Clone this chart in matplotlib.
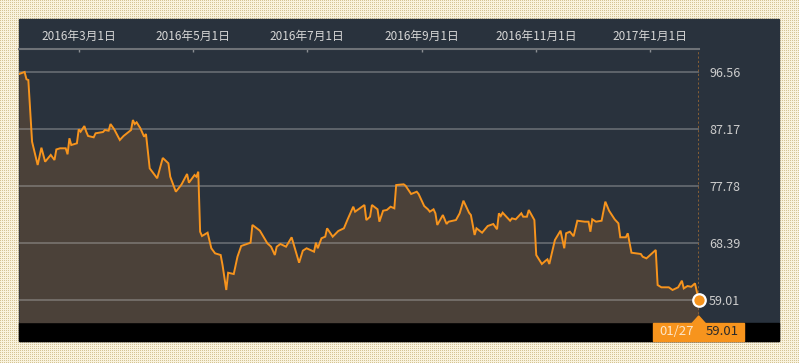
import numpy as np
import pandas as pd
import matplotlib
matplotlib.use('Agg')
import matplotlib.pyplot as plt
from matplotlib.patches import Rectangle, Polygon

plt.rcParams['font.family'] = ['Noto Sans CJK JP', 'DejaVu Sans']

# Data (days counted from the first date)
start_date = '2016-01-29'
day = [0, 3, 4, 5, 7, 10, 12, 14, 17, 19,
       20, 22, 25, 26, 27, 28, 31, 32, 33, 35,
       36, 37, 40, 41, 45, 46, 48, 49, 51, 54,
       56, 60, 61, 62, 63, 65, 67, 68, 70, 74,
       77, 80, 81, 84, 87, 90, 91, 94, 95, 96,
       97, 98, 101, 103, 105, 108, 109, 111, 112, 115,
       117, 119, 124, 125, 129, 133, 135, 137, 138, 140,
       143, 146, 148, 150, 152, 154, 158, 159, 160, 162,
       164, 165, 168, 171, 174, 176, 179, 180, 185, 186,
       188, 189, 192, 193, 195, 197, 199, 201, 202, 206,
       207, 210, 213, 214, 217, 219, 220, 222, 223, 224,
       227, 229, 230, 234, 236, 238, 241, 242, 244, 245,
       248, 251, 254, 256, 257, 258, 259, 263, 264, 266,
       269, 270, 272, 273, 276, 277, 280, 282, 283, 284,
       287, 290, 292, 293, 295, 297, 299, 303, 305, 306,
       307, 309, 312, 314, 316, 319, 321, 322, 325, 326,
       328, 333, 334, 336, 337, 341, 342, 344, 348, 350,
       353, 355, 356, 358, 360, 362, 364]
price = [96.23, 96.56, 95.36, 95.24, 85.08, 81.24, 84.09, 81.78, 82.90, 82.06,
         83.80, 83.99, 83.99, 83.00, 85.64, 84.53, 84.81, 87.12, 86.73, 87.66,
         86.73, 86.02, 85.80, 86.46, 86.67, 87.00, 86.89, 87.99, 87.12, 85.36,
         86.02, 87.00, 88.65, 87.99, 88.27, 87.29, 85.90, 86.35, 80.69, 79.05,
         82.40, 81.52, 79.31, 76.84, 78.01, 79.76, 78.32, 79.59, 79.31, 80.14,
         70.25, 69.54, 70.09, 67.52, 66.69, 66.41, 64.76, 60.65, 63.49, 63.28,
         66.13, 67.90, 68.44, 71.36, 70.42, 68.34, 67.78, 66.41, 67.78, 68.23,
         67.78, 69.33, 67.24, 65.14, 67.12, 67.52, 66.96, 68.44, 67.52, 69.17,
         69.43, 70.81, 69.43, 70.37, 70.81, 72.29, 74.37, 73.55, 74.65, 72.17,
         72.72, 74.65, 73.94, 71.90, 73.71, 73.83, 74.37, 74.10, 77.94, 78.06,
         77.83, 76.46, 76.84, 76.46, 74.48, 73.94, 73.55, 73.94, 73.28, 71.36,
         73.00, 71.52, 71.90, 72.17, 73.28, 75.36, 73.38, 73.00, 69.71, 70.81,
         70.09, 71.19, 71.52, 70.65, 73.28, 72.83, 73.38, 72.06, 72.45, 72.29,
         73.28, 72.72, 72.72, 73.83, 72.17, 66.41, 64.93, 65.47, 65.70, 64.93,
         68.88, 70.42, 67.52, 69.99, 70.25, 69.50, 72.06, 71.90, 71.90, 70.25,
         72.29, 71.90, 72.06, 75.20, 73.71, 72.29, 71.63, 69.33, 69.33, 69.99,
         66.79, 66.58, 66.13, 65.86, 66.13, 67.24, 61.47, 61.09, 61.09, 60.65,
         61.09, 62.18, 60.91, 61.30, 61.18, 61.74, 59.01]

grid_values = [59.01, 68.39, 77.78, 87.17, 96.56]
tick_dates = ['2016-03-01', '2016-05-01', '2016-07-01',
              '2016-09-01', '2016-11-01', '2017-01-01']
last_label = '01/27'

dates = pd.Timestamp(start_date) + pd.to_timedelta(day, unit='D')
ymin, ymax = 55.26, 100.30

W, H = 799, 363
fig = plt.figure(figsize=(W / 100, H / 100), dpi=100)

# dotted beige background
yy, xx = np.mgrid[0:H, 0:W]
img = np.empty((H, W, 3))
img[:] = np.array([249, 243, 222]) / 255
img[(yy % 2 == 0) & (xx % 2 == 0)] = np.array([212, 195, 148]) / 255
fig.figimage(img, 0, 0, zorder=0)

def fx(px):
    return px / W

def fy(py):
    return 1 - py / H

# dark panel and black strip
fig.add_artist(Rectangle((fx(19), fy(341)), fx(760), 322 / H,
                         transform=fig.transFigure, color='#29323d', zorder=1))
fig.add_artist(Rectangle((fx(19), fy(341)), fx(760), 18.3 / H,
                         transform=fig.transFigure, color='#000000', zorder=1))

ax = fig.add_axes([fx(19), fy(322.7), fx(679.7), 273.4 / H])
ax.set_zorder(2)
ax.patch.set_alpha(0)

ax.fill_between(dates, price, ymin, color='#4b4139', lw=0, zorder=1)
for v in grid_values:
    ax.axhline(v, color='#b0b0b0', alpha=0.5, lw=1.1, zorder=2)
ax.plot(dates, price, color='#f7941d', lw=1.4, zorder=3, solid_joinstyle='miter')
ax.axvline(dates[-1], color='#8d6236', lw=1.3, ls=(0, (1.2, 1.2)), zorder=2)
ax.plot(dates[-1], price[-1], 'o', ms=9, color='#f7941d', mec='white', mew=1.6,
        zorder=5, clip_on=False)

ax.set_xlim(dates[0], dates[-1])
ax.set_ylim(ymin, ymax)

for s in ['left', 'right', 'bottom']:
    ax.spines[s].set_visible(False)
ax.spines['top'].set_color('#6e7277')
ax.spines['top'].set_linewidth(1.5)

ticks = pd.to_datetime(tick_dates)
ax.xaxis.tick_top()
ax.set_xticks(ticks)
ax.set_xticklabels([f'{t.year}年{t.month}月{t.day}日' for t in ticks])
ax.tick_params(axis='x', direction='in', length=2.5, width=1, color='#8a8e93',
               labelcolor='#d6d6d6', labelsize=8.5, pad=4.5)

ax.yaxis.tick_right()
ax.set_yticks(grid_values)
ax.set_yticklabels([f'{v:.2f}' for v in grid_values])
ax.tick_params(axis='y', length=0, pad=7.5, labelsize=9, labelcolor='#cdcdcd')

# last value badge
fig.add_artist(Rectangle((fx(653.3), fy(340.7)), fx(91), 17.4 / H,
                         transform=fig.transFigure, color='#f7941d', zorder=3))
fig.add_artist(Polygon([(fx(692), fy(323.5)), (fx(698.7), fy(316)), (fx(705.4), fy(323.5))],
                       closed=True, transform=fig.transFigure, color='#f7941d', zorder=3))
fig.text(fx(676.5), fy(331.5), last_label, color='#fde6c8', fontsize=9.5,
         ha='center', va='center', zorder=4)
fig.text(fx(722), fy(331.5), f'{price[-1]:.2f}', color='#2a2a2a', fontsize=9.5,
         ha='center', va='center', zorder=4)

fig.savefig('out.png', dpi=100)
